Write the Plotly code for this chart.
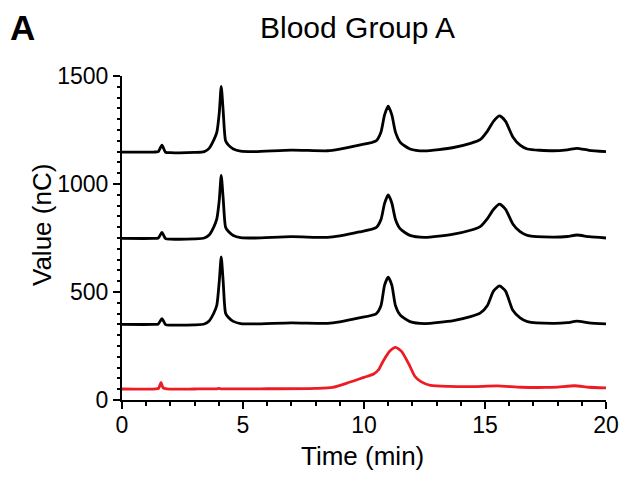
import plotly.graph_objects as go

# Chromatogram traces (time in min, signal in nC)
t_std = [0, 1.3, 1.5, 1.65, 1.8, 2.0, 3.0, 3.4, 3.6, 3.8, 3.92, 4.02, 4.1, 4.18, 4.28,
         4.4, 4.6, 4.9, 5.5, 7.0, 8.5, 9.0, 9.8, 10.5, 10.7, 10.85, 11.0, 11.15, 11.3,
         11.5, 11.9, 12.5, 13.7, 14.4, 14.8, 15.1, 15.35, 15.6, 15.85, 16.15, 16.45,
         16.75, 17.8, 18.4, 18.8, 19.3, 20]

run_top = [1148, 1148, 1150, 1180, 1147, 1145, 1146, 1150, 1165, 1205, 1240, 1330, 1452,
           1340, 1200, 1180, 1162, 1152, 1150, 1157, 1154, 1162, 1180, 1200, 1240, 1320,
           1360, 1320, 1240, 1193, 1162, 1153, 1169, 1188, 1205, 1245, 1290, 1315, 1290,
           1218, 1180, 1162, 1154, 1158, 1165, 1156, 1150]

run_mid = [748, 748, 750, 776, 747, 745, 746, 750, 764, 803, 840, 925, 1040,
           935, 800, 780, 762, 752, 750, 756, 753, 760, 778, 798, 835, 910,
           949, 912, 836, 792, 762, 753, 768, 786, 803, 840, 882, 907, 883,
           815, 779, 762, 754, 757, 764, 756, 750]

run_low = [350, 350, 352, 377, 349, 347, 348, 352, 366, 404, 440, 550, 662,
           550, 402, 382, 364, 354, 352, 357, 355, 362, 380, 399, 436, 532,
           569, 532, 437, 393, 363, 354, 368, 386, 402, 438, 504, 528, 504,
           415, 380, 363, 355, 358, 365, 357, 352]

t_red = [0, 1.4, 1.52, 1.61, 1.7, 1.85, 3.0, 3.9, 4.0, 4.1, 6.0, 8.0, 8.7, 9.4, 10.0,
         10.4, 10.6, 10.8, 11.05, 11.3, 11.55, 11.85, 12.1, 12.35, 12.75, 13.5, 14.5,
         15.5, 16.5, 17.5, 18.0, 18.7, 19.3, 20]
run_red = [51, 51, 55, 81, 56, 51, 51, 52, 54, 52, 52, 54, 58, 82, 105,
           120, 140, 182, 225, 244, 225, 167, 110, 85, 68, 63, 62,
           65, 59, 58, 60, 66, 59, 56]

FONT = "Arial, Liberation Sans, sans-serif"

fig = go.Figure()
for ys in (run_top, run_mid, run_low):
    fig.add_trace(go.Scatter(x=t_std, y=ys, mode="lines",
                             line=dict(color="black", width=2.8, shape="spline", smoothing=0.6),
                             showlegend=False, hoverinfo="skip"))
fig.add_trace(go.Scatter(x=t_red, y=run_red, mode="lines",
                         line=dict(color="#ED1C24", width=2.8, shape="spline", smoothing=0.6),
                         showlegend=False, hoverinfo="skip"))

L, R, T, B = 122, 15, 76, 79
W, H = 621, 479
pw, ph = W - L - R, H - T - B


def px(x):
    return (x - L) / pw


def py(y):
    return (H - B - y) / ph


fig.update_layout(
    width=W, height=H,
    margin=dict(l=L, r=R, t=T, b=B, autoexpand=False),
    paper_bgcolor="white", plot_bgcolor="white",
    font=dict(family=FONT, color="black", size=23),
    xaxis=dict(range=[0, 20], tickvals=[0, 5, 10, 15, 20], showgrid=False, zeroline=False,
               automargin=False, ticklabelstandoff=-4,
               showline=True, linecolor="black", linewidth=2,
               ticks="outside", ticklen=7, tickwidth=2, tickcolor="black",
               minor=dict(dtick=1, tick0=0, ticks="outside", ticklen=4, tickwidth=2,
                          tickcolor="black", showgrid=False),
               tickfont=dict(size=23)),
    yaxis=dict(range=[0, 1500], tickvals=[0, 500, 1000, 1500], showgrid=False, zeroline=False,
               automargin=False,
               showline=True, linecolor="black", linewidth=2,
               ticks="outside", ticklen=7, tickwidth=2, tickcolor="black",
               minor=dict(dtick=50, tick0=0, ticks="outside", ticklen=3, tickwidth=2,
                          tickcolor="black", showgrid=False),
               tickfont=dict(size=23)),
    annotations=[
        dict(text="Blood Group A", x=px(357), y=py(27), xref="paper", yref="paper",
             showarrow=False, xanchor="center", yanchor="middle", font=dict(size=30)),
        dict(text="<b>A</b>", x=px(8), y=py(27), xref="paper", yref="paper",
             showarrow=False, xanchor="left", yanchor="middle", font=dict(size=35)),
        dict(text="Time (min)", x=px(362), y=py(456), xref="paper", yref="paper",
             showarrow=False, xanchor="center", yanchor="middle", font=dict(size=26)),
        dict(text="Value (nC)", x=px(42), y=py(225), xref="paper", yref="paper",
             showarrow=False, xanchor="center", yanchor="middle", textangle=-90,
             font=dict(size=26)),
    ],
)

fig.write_html("out.html")
